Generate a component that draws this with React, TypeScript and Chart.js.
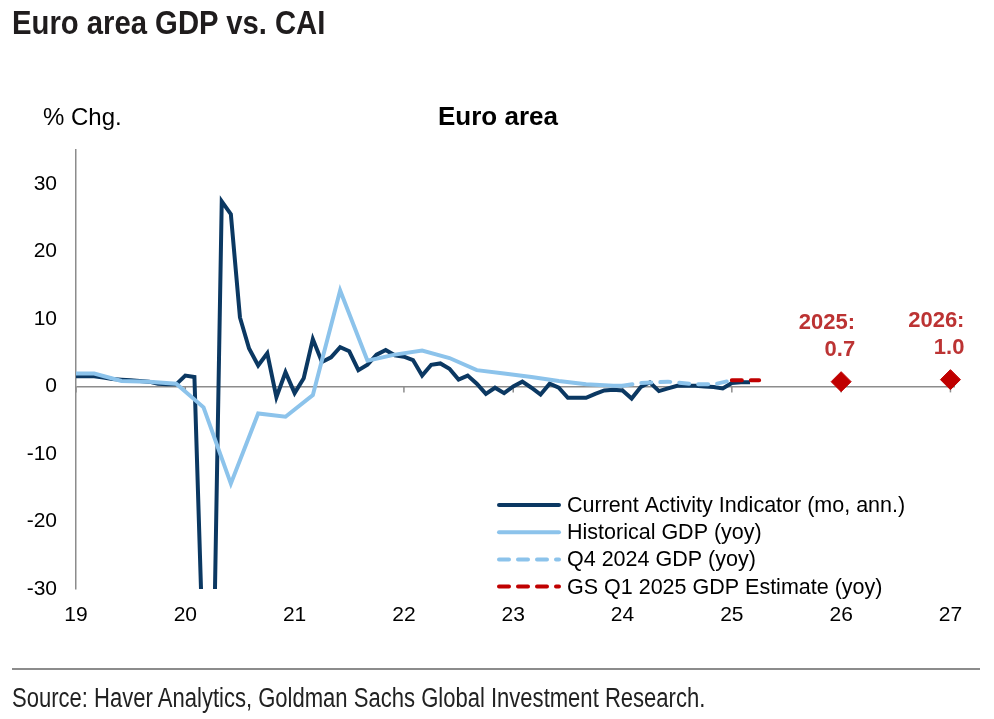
import React, { useEffect, useLayoutEffect, useRef, useState } from 'react';
import { Chart, registerables } from 'chart.js';

Chart.register(...registerables);

// ---------- data (x = months since Jan 2019) ----------
const caiStartMonth = 0;
const caiValues = [
  // 2019
  1.5, 1.5, 1.5, 1.3, 1.1, 1.0, 0.9, 0.8, 0.7, 0.4, 0.3, 0.3,
  // 2020
  1.6, 1.4, -42, -50, 27.4, 25.5, 10.2, 5.6, 3.1, 4.9, -1.6, 2.1,
  // 2021
  -1.0, 1.2, 7.0, 3.6, 4.3, 5.8, 5.2, 2.4, 3.2, 4.7, 5.4, 4.6,
  // 2022
  4.4, 3.9, 1.6, 3.2, 3.4, 2.6, 1.0, 1.6, 0.4, -1.1, -0.2, -1.0,
  // 2023
  0.0, 0.7, -0.2, -1.2, 0.4, -0.2, -1.7, -1.7, -1.7, -1.1, -0.6, -0.5,
  // 2024
  -0.6, -1.8, -0.1, 0.6, -0.7, -0.3, 0.1, 0.1, 0.1, 0.0, -0.1, -0.3,
  // 2025
  0.5, 0.6, 0.6,
];

const gdpMonths = [-1, 2, 5, 8, 11, 14, 17, 20, 23, 26, 29, 32, 35, 38, 41, 44, 47, 50, 53, 56, 59, 60];
const gdpValues = [1.9, 1.9, 0.8, 0.7, 0.4, -3.1, -14.4, -4.0, -4.5, -1.3, 14.2, 3.8, 4.7, 5.3, 4.2, 2.4, 1.9, 1.4, 0.8, 0.3, 0.1, 0.1];

const q4Months = [60, 62, 65, 68, 70, 72];
const q4Values = [0.1, 0.5, 0.7, 0.3, 0.3, 0.9];

const estMonths = [72, 75];
const estValues = [0.9, 0.9];

const annualYears = ['2025', '2026'];
const annualMonths = [84, 96];
const annualValues = [0.7, 1.0];

const xTickMonths = [0, 12, 24, 36, 48, 60, 72, 84, 96];
const xTickLabels = ['19', '20', '21', '22', '23', '24', '25', '26', '27'];
const yTickValues = [-30, -20, -10, 0, 10, 20, 30];

const legendLabels = [
  'Current Activity Indicator (mo, ann.)',
  'Historical GDP (yoy)',
  'Q4 2024 GDP (yoy)',
  'GS Q1 2025 GDP Estimate (yoy)',
];

const titleText = 'Euro area GDP vs. CAI';
const subtitleText = 'Euro area';
const unitText = '% Chg.';
const sourceText = 'Source: Haver Analytics, Goldman Sachs Global Investment Research.';

// ---------- styles ----------
const DARK = '#0B3862';
const LIGHT = '#8CC3EB';
const RED = '#C00000';
const LABEL_RED = '#BC3333';
const GRAY = '#8C8C8C';
const FONT = '"Liberation Sans", Arial, sans-serif';
const DASH = [10, 9];

const legendStyles = [
  { color: DARK, dash: [] as number[] },
  { color: LIGHT, dash: [] as number[] },
  { color: LIGHT, dash: DASH },
  { color: RED, dash: DASH },
];

const zeroTicksPlugin = {
  id: 'zeroTicks',
  beforeDatasetsDraw(chart: any) {
    const { ctx, scales } = chart;
    const y0 = scales.y.getPixelForValue(0);
    ctx.save();
    ctx.strokeStyle = GRAY;
    ctx.lineWidth = 1.5;
    xTickMonths.forEach((m) => {
      const x = scales.x.getPixelForValue(m);
      ctx.beginPath();
      ctx.moveTo(x, y0);
      ctx.lineTo(x, y0 + 6);
      ctx.stroke();
    });
    ctx.restore();
  },
};

const legendPlugin = {
  id: 'customLegend',
  afterDraw(chart: any) {
    const { ctx, chartArea } = chart;
    const x0 = chartArea.left + 423;
    const y0 = chartArea.bottom - 84;
    ctx.save();
    ctx.font = `21.5px ${FONT}`;
    ctx.textBaseline = 'middle';
    ctx.textAlign = 'left';
    legendLabels.forEach((label, i) => {
      const y = y0 + i * 27.2;
      const st = legendStyles[i];
      ctx.beginPath();
      ctx.strokeStyle = st.color;
      ctx.lineWidth = 4;
      ctx.lineCap = 'round';
      ctx.setLineDash(st.dash);
      ctx.moveTo(x0, y);
      ctx.lineTo(x0 + 60, y);
      ctx.stroke();
      ctx.setLineDash([]);
      ctx.fillStyle = '#000';
      ctx.fillText(label, x0 + 68, y + 1);
    });
    ctx.restore();
  },
};

const annualLabelPlugin = {
  id: 'annualLabels',
  afterDatasetsDraw(chart: any) {
    const { ctx } = chart;
    const meta = chart.getDatasetMeta(0);
    ctx.save();
    ctx.font = `bold 22px ${FONT}`;
    ctx.fillStyle = LABEL_RED;
    ctx.textAlign = 'right';
    ctx.textBaseline = 'middle';
    meta.data.forEach((pt: any, i: number) => {
      ctx.fillText(`${annualYears[i]}:`, pt.x + 14, pt.y - 59);
      ctx.fillText(annualValues[i].toFixed(1), pt.x + 14, pt.y - 32);
    });
    ctx.restore();
  },
};

// Text squeezed horizontally to a target width (emulates a condensed face)
function FitText(props: { text: string; width: number; style: React.CSSProperties }) {
  const ref = useRef<HTMLSpanElement | null>(null);
  const [scale, setScale] = useState(1);
  useLayoutEffect(() => {
    if (!ref.current) return;
    const w = ref.current.offsetWidth;
    if (w > 0) setScale(props.width / w);
  }, [props.text, props.width]);
  return (
    <span
      ref={ref}
      style={{
        ...props.style,
        position: 'absolute',
        display: 'inline-block',
        whiteSpace: 'nowrap',
        transformOrigin: '0 0',
        transform: `scaleX(${scale})`,
      }}
    >
      {props.text}
    </span>
  );
}

export default function App() {
  const canvasRef = useRef<HTMLCanvasElement | null>(null);

  useEffect(() => {
    if (!canvasRef.current) return;
    const chart = new Chart(canvasRef.current, {
      type: 'line',
      data: {
        datasets: [
          {
            label: 'Annual',
            data: annualMonths.map((m, i) => ({ x: m, y: annualValues[i] })),
            showLine: false,
            pointStyle: 'rectRot',
            pointRadius: 10,
            pointBorderWidth: 1,
            pointBackgroundColor: RED,
            pointBorderColor: RED,
            clip: false,
          } as any,
          {
            label: legendLabels[3],
            data: estMonths.map((m, i) => ({ x: m, y: estValues[i] })),
            borderColor: RED,
            borderWidth: 4,
            borderDash: DASH,
            borderCapStyle: 'round',
            pointRadius: 0,
          },
          {
            label: legendLabels[2],
            data: q4Months.map((m, i) => ({ x: m, y: q4Values[i] })),
            borderColor: LIGHT,
            borderWidth: 4,
            borderDash: DASH,
            borderCapStyle: 'round',
            pointRadius: 0,
          },
          {
            label: legendLabels[1],
            data: gdpMonths.map((m, i) => ({ x: m, y: gdpValues[i] })),
            borderColor: LIGHT,
            borderWidth: 4,
            pointRadius: 0,
          },
          {
            label: legendLabels[0],
            data: caiValues.map((v, i) => ({ x: caiStartMonth + i, y: v })),
            borderColor: DARK,
            borderWidth: 4,
            pointRadius: 0,
          },
        ],
      },
      options: {
        animation: false,
        responsive: false,
        layout: { padding: { left: 0, top: 150, right: 39, bottom: 90 } },
        plugins: {
          legend: { display: false },
          tooltip: { enabled: false },
        },
        scales: {
          x: {
            type: 'linear',
            min: 0,
            max: 96.5,
            afterBuildTicks: (s: any) => {
              s.ticks = xTickMonths.map((v) => ({ value: v }));
            },
            afterFit: (s: any) => {
              s.height = 40;
            },
            ticks: {
              autoSkip: false,
              maxRotation: 0,
              padding: 14,
              color: '#000',
              font: { size: 21, family: FONT },
              callback: (v: any) => {
                const idx = xTickMonths.indexOf(Number(v));
                return idx >= 0 ? xTickLabels[idx] : '';
              },
            },
            grid: { display: false, drawTicks: false },
            border: { display: false },
          },
          y: {
            min: -30,
            max: 35,
            afterBuildTicks: (s: any) => {
              s.ticks = yTickValues.map((v) => ({ value: v }));
            },
            afterFit: (s: any) => {
              s.width = 76;
            },
            ticks: {
              padding: 19,
              color: '#000',
              font: { size: 21, family: FONT },
              callback: (v: any) => String(v),
            },
            grid: {
              drawTicks: false,
              lineWidth: 1.5,
              color: (c: any) => (c.tick && c.tick.value === 0 ? GRAY : 'rgba(0,0,0,0)'),
            },
            border: { display: true, color: GRAY, width: 1.5 },
          },
        },
      } as any,
      plugins: [zeroTicksPlugin, legendPlugin, annualLabelPlugin],
    });
    return () => chart.destroy();
  }, []);

  return (
    <div
      style={{
        position: 'absolute',
        left: 0,
        top: 0,
        width: 994,
        height: 719,
        background: '#fff',
        fontFamily: FONT,
        overflow: 'hidden',
      }}
    >
      <canvas
        ref={canvasRef}
        width={994}
        height={719}
        style={{ position: 'absolute', left: 0, top: 0, width: 994, height: 719 }}
      />
      <FitText
        text={titleText}
        width={313}
        style={{
          left: 12,
          top: 5.5,
          fontWeight: 'bold',
          fontSize: 33,
          lineHeight: '33px',
          color: '#1f1c1d',
        }}
      />
      <div
        style={{
          position: 'absolute',
          left: 43,
          top: 104.5,
          fontSize: 24,
          lineHeight: '24px',
          color: '#000',
          whiteSpace: 'nowrap',
        }}
      >
        {unitText}
      </div>
      <div
        style={{
          position: 'absolute',
          left: 0,
          width: 996,
          top: 103,
          textAlign: 'center',
          fontSize: 26,
          lineHeight: '26px',
          fontWeight: 'bold',
          color: '#000',
          whiteSpace: 'nowrap',
        }}
      >
        {subtitleText}
      </div>
      <div
        style={{
          position: 'absolute',
          left: 12,
          top: 668,
          width: 968,
          height: 1.5,
          background: GRAY,
        }}
      />
      <FitText
        text={sourceText}
        width={693}
        style={{
          left: 12,
          top: 685,
          fontSize: 27,
          lineHeight: '27px',
          color: '#222',
        }}
      />
    </div>
  );
}
